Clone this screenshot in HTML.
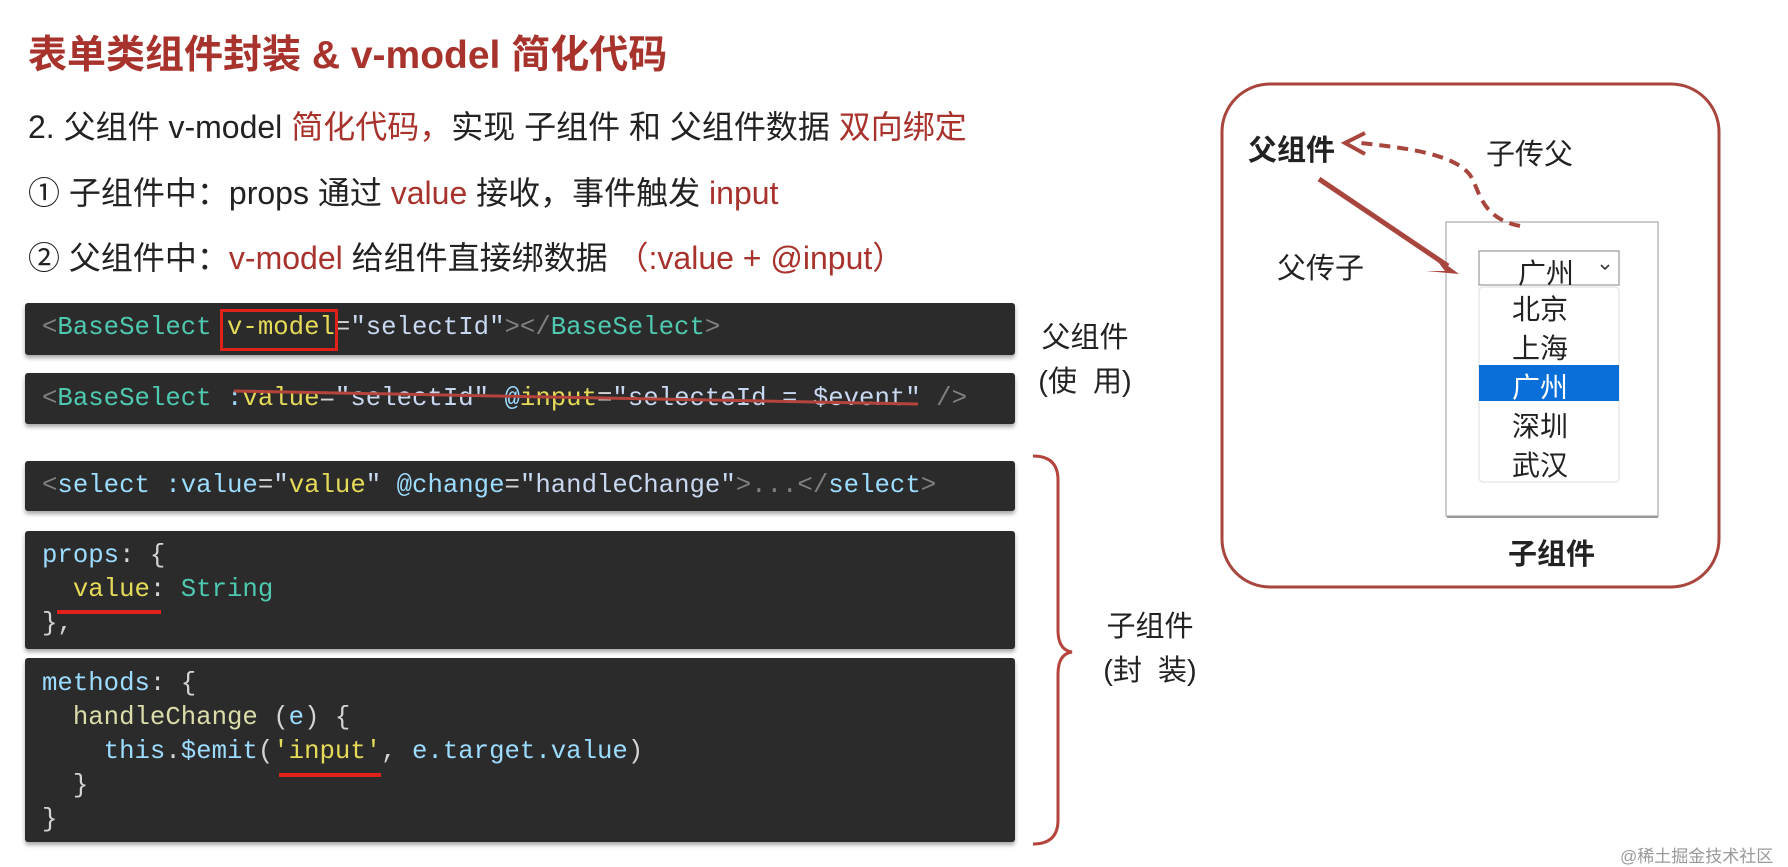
<!DOCTYPE html>
<html><head><meta charset="utf-8"><style>
body{margin:0;width:1788px;height:867px;background:#fff;position:relative;overflow:hidden;font-family:"Liberation Sans","Noto Sans CJK SC",sans-serif;color:#222}
.a{position:absolute;white-space:nowrap}
.r{color:#a8322c}
.t{font-size:39px;font-weight:bold;color:#a8322c;left:28px;top:24px}
.b{font-size:32px;left:28px}
.code{position:absolute;left:25px;width:990px;background:#2b2b2b;border-radius:3px;box-shadow:0 3px 4px rgba(0,0,0,.35)}
.cl{position:absolute;left:42px;font-family:"Liberation Mono",monospace;font-size:25.7px;color:#d4d4d4;white-space:pre;line-height:34px}
.g{color:#808080}.tg{color:#4ec9b0}.at{color:#9cdcfe}.y{color:#e6db58}.s{color:#c8d8f0}
.lab{font-size:29px;text-align:center;line-height:44px}
</style></head><body>
<div class="a t">表单类组件封装 &amp; v-model 简化代码</div>
<div class="a b" style="top:102px">2. 父组件 v-model <span class="r">简化代码，</span>实现 子组件 和 父组件数据 <span class="r">双向绑定</span></div>
<div class="a b" style="top:168px">① 子组件中：props 通过 <span class="r">value</span> 接收，事件触发 <span class="r">input</span></div>
<div class="a b" style="top:233px">② 父组件中：<span class="r">v-model</span> 给组件直接绑数据 <span class="r">（:value + @input）</span></div>

<div class="code" style="top:303px;height:52px"></div>
<div class="code" style="top:373px;height:51px"></div>
<div class="code" style="top:461px;height:50px"></div>
<div class="code" style="top:531px;height:118px"></div>
<div class="code" style="top:658px;height:184px"></div>

<div class="cl" style="top:311px"><span class="g">&lt;</span><span class="tg">BaseSelect</span> <span class="y">v-model</span>=<span class="s">"selectId"</span><span class="g">&gt;&lt;/</span><span class="tg">BaseSelect</span><span class="g">&gt;</span></div>
<div class="a" style="left:220px;top:309px;width:112px;height:36px;border:3px solid #e0221b"></div>
<div class="cl" style="top:382px"><span class="g">&lt;</span><span class="tg">BaseSelect</span> <span class="at">:</span><span class="y">value</span>=<span class="s">"selectId"</span> <span class="at">@</span><span class="y">input</span>=<span class="s">"selecteId = $event"</span> <span class="g">/&gt;</span></div>
<svg class="a" style="left:0;top:0" width="1788" height="867">
<path d="M234 391 Q 560 398 918 404" stroke="#b5443c" stroke-width="3" fill="none"/>
</svg>
<div class="cl" style="top:469px"><span class="g">&lt;</span><span class="at">select</span> <span class="at">:value</span>=<span class="s">"</span><span class="y">value</span><span class="s">"</span> <span class="at">@change</span>=<span class="s">"handleChange"</span><span class="g">&gt;...&lt;/</span><span class="at">select</span><span class="g">&gt;</span></div>
<div class="cl" style="top:539px"><span class="at">props</span>: {
  <span class="y">value</span>: <span class="tg">String</span>
},</div>
<div class="a" style="left:57px;top:610px;width:104px;height:4px;background:#e0221b"></div>
<div class="cl" style="top:667px"><span class="at">methods</span>: {
  <span style="color:#dcdcaa">handleChange</span> (<span class="at">e</span>) {
    <span class="at">this</span>.<span class="at">$emit</span>(<span class="y">'input'</span>, <span class="at">e.target.value</span>)
  }
}</div>
<div class="a" style="left:279px;top:773px;width:102px;height:4px;background:#e0221b"></div>

<div class="a lab" style="left:1030px;top:316px;width:110px">父组件<br>(使&nbsp; 用)</div>
<div class="a lab" style="left:1095px;top:605px;width:110px">子组件<br>(封&nbsp; 装)</div>
<svg class="a" style="left:0;top:0" width="1788" height="867">
<path d="M1033 456 Q1058 456 1058 480 L1058 630 Q1058 650 1072 652 Q1058 654 1058 674 L1058 820 Q1058 844 1033 844" stroke="#b5443c" stroke-width="3" fill="none"/>
<rect x="1222" y="84" width="497" height="503" rx="48" fill="none" stroke="#a8463e" stroke-width="3"/>
<rect x="1446" y="222" width="212" height="294" fill="#fff" stroke="#bbb" stroke-width="1.5"/>
<line x1="1447" y1="517" x2="1658" y2="517" stroke="#999" stroke-width="2"/>
<path d="M1520 226 C1480 218 1480 190 1470 175 C1455 155 1410 148 1360 143" stroke="#a8463e" stroke-width="4" stroke-dasharray="11 7" fill="none"/>
<path d="M1365 133 L1345 143 L1365 154" stroke="#a8463e" stroke-width="4" fill="none"/>
<line x1="1319" y1="179" x2="1448" y2="266" stroke="#a8463e" stroke-width="5"/>
<path d="M1459 274 L1432 254 L1445 271 L1426 271 Z" fill="#a8463e"/>
<rect x="1479" y="251" width="140" height="34" fill="#fff" stroke="#999" stroke-width="1.2"/>
<path d="M1601 265 l4 4 l4 -4" stroke="#333" stroke-width="1.6" fill="none"/>
<rect x="1479" y="287" width="140" height="195" rx="4" fill="#fff" stroke="#ddd"/>
<rect x="1479" y="365" width="140" height="36" fill="#0a6fd8"/>
</svg>
<div class="a" style="left:1248px;top:127px;font-size:29px;font-weight:bold">父组件</div>
<div class="a" style="left:1486px;top:131px;font-size:29px">子传父</div>
<div class="a" style="left:1277px;top:245px;font-size:29px">父传子</div>
<div class="a" style="left:1518px;top:252px;font-size:28px">广州</div>
<div class="a" style="left:1512px;top:290px;font-size:28px;line-height:39px">北京<br>上海<br><span style="color:#fff">广州</span><br>深圳<br>武汉</div>
<div class="a" style="left:1508px;top:531px;font-size:29px;font-weight:bold">子组件</div>
<div class="a" style="left:1620px;top:842px;font-size:17px;color:#999">@稀土掘金技术社区</div>
</body></html>
